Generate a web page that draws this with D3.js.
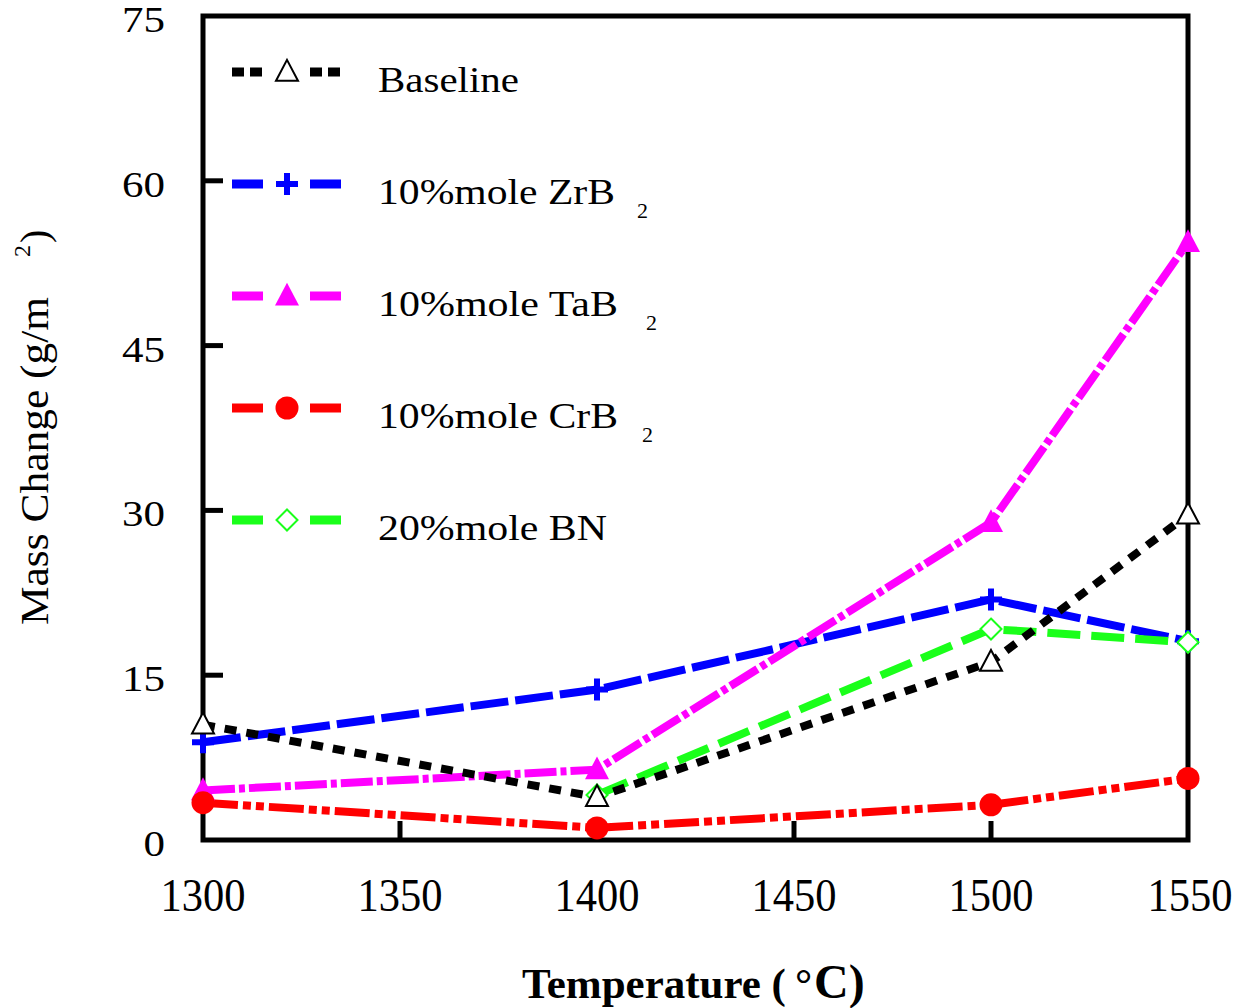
<!DOCTYPE html>
<html lang="en">
<head>
<meta charset="UTF-8">
<title>Mass Change vs Temperature</title>
<script src="https://d3js.org/d3.v7.min.js"></script>
<style>
    body { margin: 0; background: #fff; }
    text { font-family: "Liberation Serif", "Times New Roman", serif; fill: #000; }
</style>
</head>
<body>
<div id="chart"></div>
<script>
    // Data
    const temps = [1300, 1400, 1500, 1550];
    const baseline = [10.5, 3.9, 16.2, 29.6];
    const zrb2 = [8.9, 13.7, 21.9, 18.1];
    const tab2 = [4.5, 6.4, 28.9, 54.4];
    const crb2 = [3.4, 1.1, 3.2, 5.6];
    const bn = [null, 4.1, 19.2, 18.0];

    const xTicks = [1300, 1350, 1400, 1450, 1500, 1550];
    const yTicks = [0, 15, 30, 45, 60, 75];
    const seriesNames = ["Baseline", "10%mole ZrB", "10%mole TaB", "10%mole CrB", "20%mole BN"];
    const seriesSubs = ["", "2", "2", "2", ""];

    const W = 1238, H = 1008;
    const svg = d3.select("#chart").append("svg")
        .attr("width", W).attr("height", H);

    const x = d3.scaleLinear().domain([1300, 1550]).range([203, 1188]);
    const y = d3.scaleLinear().domain([0, 75]).range([840, 16]);

    // marker paths
    const tri = s => `M0,${-s * 0.55}L${s / 2},${s * 0.4}L${-s / 2},${s * 0.4}Z`;
    const plus = s => `M${-s / 2},0H${s / 2}M0,${-s / 2}V${s / 2}`;
    const diamond = s => `M0,${-s / 2}L${s / 2},0L0,${s / 2}L${-s / 2},0Z`;
    const circle = r => `M${-r},0A${r},${r} 0 1,0 ${r},0A${r},${r} 0 1,0 ${-r},0Z`;

    const series = [
        { name: seriesNames[0], values: baseline, color: "#000", dash: "12,10", legDash: "12,6,12,48,12,6,12",
          marker: tri(22), fill: "#fff", mstroke: 2 },
        { name: seriesNames[1], values: zrb2, color: "#0000ff", dash: "38,7", legDash: "31,47,31",
          marker: plus(22), fill: "none", mstroke: 6 },
        { name: seriesNames[2], values: tab2, color: "#ff00ff", dash: "32,4,6,4", legDash: "31,47,31",
          marker: tri(24), fill: "#ff00ff", mstroke: 0 },
        { name: seriesNames[3], values: crb2, color: "#ff0000", dash: "35,5,8,5,8,5", legDash: "31,47,31",
          marker: circle(11.5), fill: "#ff0000", mstroke: 0 },
        { name: seriesNames[4], values: bn, color: "#1aff1a", dash: "33,11", legDash: "31,47,31",
          marker: diamond(21), fill: "#fff", mstroke: 2 }
    ];

    // frame
    const frameW = 5;
    svg.append("rect")
        .attr("x", x(1300)).attr("y", y(75))
        .attr("width", x(1550) - x(1300)).attr("height", y(0) - y(75))
        .attr("fill", "none").attr("stroke", "#000").attr("stroke-width", frameW);

    // inward ticks
    svg.selectAll(".ytick").data(yTicks.slice(1, -1)).enter().append("line")
        .attr("x1", x(1300)).attr("x2", x(1300) + 20)
        .attr("y1", d => y(d)).attr("y2", d => y(d))
        .attr("stroke", "#000").attr("stroke-width", frameW);
    svg.selectAll(".xtick").data(xTicks.slice(1, -1)).enter().append("line")
        .attr("x1", d => x(d)).attr("x2", d => x(d))
        .attr("y1", y(0)).attr("y2", y(0) - 19)
        .attr("stroke", "#000").attr("stroke-width", frameW);

    // tick labels
    svg.selectAll(".ylab").data(yTicks).enter().append("text")
        .attr("x", 165).attr("y", d => y(d) + 16)
        .attr("text-anchor", "end")
        .attr("font-size", 35)
        .attr("textLength", d => String(d).length * 21.5)
        .attr("lengthAdjust", "spacingAndGlyphs")
        .text(d => d);
    svg.selectAll(".xlab").data(xTicks).enter().append("text")
        .attr("x", d => x(d) - (d === 1550 ? -2 : 0)).attr("y", 911)
        .attr("text-anchor", "middle")
        .attr("font-size", 46)
        .attr("textLength", 85)
        .attr("lengthAdjust", "spacingAndGlyphs")
        .text(d => d);

    // axis titles
    const xTitle = svg.append("text")
        .attr("y", 998)
        .attr("font-size", 43).attr("font-weight", "bold");
    xTitle.append("tspan")
        .attr("x", 522)
        .text("Temperature (");
    xTitle.append("tspan")
        .attr("x", 795)
        .text("°");
    xTitle.append("tspan")
        .attr("x", 814)
        .attr("font-size", 48)
        .text("C)");

    const yTitle = svg.append("text")
        .attr("transform", "translate(48,625) rotate(-90)")
        .attr("font-size", 40);
    yTitle.append("tspan")
        .attr("x", 0).attr("y", 0)
        .attr("textLength", 328).attr("lengthAdjust", "spacingAndGlyphs")
        .text("Mass Change (g/m");
    yTitle.append("tspan")
        .attr("x", 368).attr("y", -18)
        .attr("font-size", 24)
        .text("2");
    yTitle.append("tspan")
        .attr("x", 382).attr("y", 0)
        .text(")");

    // lines
    const line = d3.line()
        .defined(d => d[1] !== null)
        .x(d => x(d[0])).y(d => y(d[1]));
    const drawOrder = [1, 2, 4, 3, 0];
    drawOrder.forEach(i => {
        const s = series[i];
        svg.append("path")
            .datum(temps.map((t, j) => [t, s.values[j]]))
            .attr("d", line)
            .attr("fill", "none")
            .attr("stroke", s.color)
            .attr("stroke-width", 8)
            .attr("stroke-dasharray", s.dash);
    });

    // markers
    drawOrder.forEach(i => {
        const s = series[i];
        svg.selectAll(null)
            .data(temps.map((t, j) => [t, s.values[j]]).filter(d => d[1] !== null))
            .enter().append("path")
            .attr("transform", d => `translate(${x(d[0])},${y(d[1])})`)
            .attr("d", s.marker)
            .attr("fill", s.fill)
            .attr("stroke", s.mstroke ? s.color : "none")
            .attr("stroke-width", s.mstroke);
    });

    // legend
    const legend = svg.selectAll(".legend").data(series).enter().append("g")
        .attr("transform", (d, i) => `translate(0,${72 + i * 112})`);
    legend.append("line")
        .attr("x1", 232).attr("x2", 342)
        .attr("stroke", d => d.color)
        .attr("stroke-width", 9)
        .attr("stroke-dasharray", d => d.legDash);
    legend.append("path")
        .attr("transform", "translate(287,0)")
        .attr("d", d => d.marker)
        .attr("fill", d => d.fill)
        .attr("stroke", d => d.mstroke ? d.color : "none")
        .attr("stroke-width", d => d.mstroke);
    legend.append("text")
        .attr("x", 378).attr("y", 20)
        .attr("font-size", 36)
        .attr("textLength", (d, i) => [141, 237, 240, 240, 229][i])
        .attr("lengthAdjust", "spacingAndGlyphs")
        .text(d => d.name);
    legend.append("text")
        .attr("x", (d, i) => [0, 637, 646, 642, 0][i]).attr("y", 34)
        .attr("font-size", 22)
        .text((d, i) => seriesSubs[i]);
</script>
</body>
</html>
